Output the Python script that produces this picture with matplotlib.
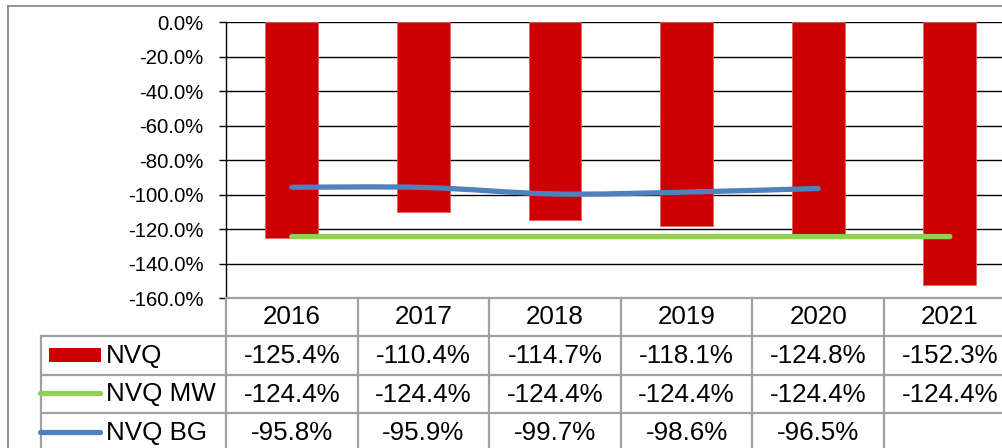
import numpy as np
import matplotlib
matplotlib.use("Agg")
import matplotlib.pyplot as plt
from matplotlib.path import Path
from matplotlib.patches import PathPatch, Rectangle
from matplotlib.lines import Line2D
from matplotlib.ticker import FuncFormatter, MultipleLocator

plt.rcParams['font.family'] = ['Liberation Sans', 'DejaVu Sans']

years = ["2016", "2017", "2018", "2019", "2020", "2021"]
nvq = [-125.4, -110.4, -114.7, -118.1, -124.8, -152.3]
nvq_mw = [-124.4, -124.4, -124.4, -124.4, -124.4, -124.4]
nvq_bg = [-95.8, -95.9, -99.7, -98.6, -96.5, None]
series_names = ["NVQ", "NVQ MW", "NVQ BG"]

RED = "#CC0000"
GREEN = "#92D050"
BLUE = "#4F81BD"
GRID_T = "#A0A0A0"

W, H = 1003, 448
fig = plt.figure(figsize=(W / 100, H / 100), dpi=100)

def fx(x):
    return x / W

def fy(y):
    return 1 - y / H

col_w = 131.6
x0 = 226
x_right = x0 + 6 * col_w
y_top, y_bot = 22, 298

ax = fig.add_axes([fx(x0), fy(y_bot), (x_right - x0) / W, (y_bot - y_top) / H])
ax.set_xlim(-0.5, 5.5)
ax.set_ylim(-160, 0)
ax.yaxis.set_major_locator(MultipleLocator(20))
ax.yaxis.set_major_formatter(FuncFormatter(lambda v, p: f"{v:.1f}%".replace("-0.0%", "0.0%")))
ax.set_xticks([])
for s in ["top", "right", "bottom"]:
    ax.spines[s].set_visible(False)
ax.spines["left"].set_color("black")
ax.spines["left"].set_linewidth(1.0)
ax.tick_params(axis="y", direction="out", length=5, width=1, color="black",
               labelsize=14.7, pad=11)
ax.grid(axis="y", color="black", linewidth=1.0)
ax.set_axisbelow(True)

xs = np.arange(len(years))
ax.bar(xs, nvq, width=0.4, color=RED, edgecolor="#E06060", linewidth=0.6, zorder=2)


def smooth_path(xv, yv, tension=0.5):
    pts = np.column_stack([xv, yv])
    n = len(pts)
    verts = [pts[0]]
    codes = [Path.MOVETO]
    for i in range(n - 1):
        p0 = pts[i - 1] if i > 0 else pts[i]
        p1 = pts[i]
        p2 = pts[i + 1]
        p3 = pts[i + 2] if i + 2 < n else pts[i + 1]
        c1 = p1 + (p2 - p0) * tension / 3
        c2 = p2 - (p3 - p1) * tension / 3
        verts += [c1, c2, p2]
        codes += [Path.CURVE4] * 3
    return Path(verts, codes)


mw_x = [i for i, v in enumerate(nvq_mw) if v is not None]
mw_y = [v for v in nvq_mw if v is not None]
bg_x = [i for i, v in enumerate(nvq_bg) if v is not None]
bg_y = [v for v in nvq_bg if v is not None]

for px, py, c in [(mw_x, mw_y, GREEN), (bg_x, bg_y, BLUE)]:
    patch = PathPatch(smooth_path(px, py), facecolor="none", edgecolor=c,
                      linewidth=3.8, capstyle="round", joinstyle="round", zorder=3)
    ax.add_patch(patch)

# Outer chart frame
fig.add_artist(Line2D([fx(8), fx(8)], [fy(6), fy(H + 5)], color="#808080", linewidth=1.2))
fig.add_artist(Line2D([fx(8), fx(W + 5)], [fy(6), fy(6)], color="#808080", linewidth=1.2))

# Data table
row_lines = [298, 336, 375, 413]
row_bottom = 452
tl_left = 41
lw_t = 1.6

fig.add_artist(Line2D([fx(x0), fx(x_right)], [fy(298), fy(298)], color=GRID_T, linewidth=lw_t))
for yl in row_lines[1:]:
    fig.add_artist(Line2D([fx(tl_left), fx(x_right)], [fy(yl), fy(yl)], color=GRID_T, linewidth=lw_t))
fig.add_artist(Line2D([fx(tl_left), fx(tl_left)], [fy(336), fy(row_bottom)], color=GRID_T, linewidth=lw_t))
for i in range(len(years) + 1):
    xc = x0 + i * col_w
    fig.add_artist(Line2D([fx(xc), fx(xc)], [fy(298), fy(row_bottom)], color=GRID_T, linewidth=lw_t))

FS = 18.7
for i, yr in enumerate(years):
    fig.text(fx(x0 + (i + 0.5) * col_w), fy(317.5), yr, ha="center", va="center", fontsize=FS)

rows = [nvq, nvq_mw, nvq_bg]
row_centers = [356, 394.5, 433]
for r, (vals, yc) in enumerate(zip(rows, row_centers)):
    for i, v in enumerate(vals):
        if v is None:
            continue
        fig.text(fx(x0 + (i + 0.5) * col_w), fy(yc), f"{v:.1f}%", ha="center", va="center", fontsize=FS)
    fig.text(fx(106), fy(yc), series_names[r], ha="left", va="center", fontsize=FS)

# Legend keys
fig.add_artist(Rectangle((fx(49), fy(362)), (101 - 49) / W, 14 / H, facecolor=RED, edgecolor="none"))
fig.add_artist(Line2D([fx(40), fx(100)], [fy(393), fy(393)], color=GREEN, linewidth=3.8, solid_capstyle="round"))
fig.add_artist(Line2D([fx(40), fx(100)], [fy(432), fy(432)], color=BLUE, linewidth=3.8, solid_capstyle="round"))

fig.savefig("out.png", dpi=100)
